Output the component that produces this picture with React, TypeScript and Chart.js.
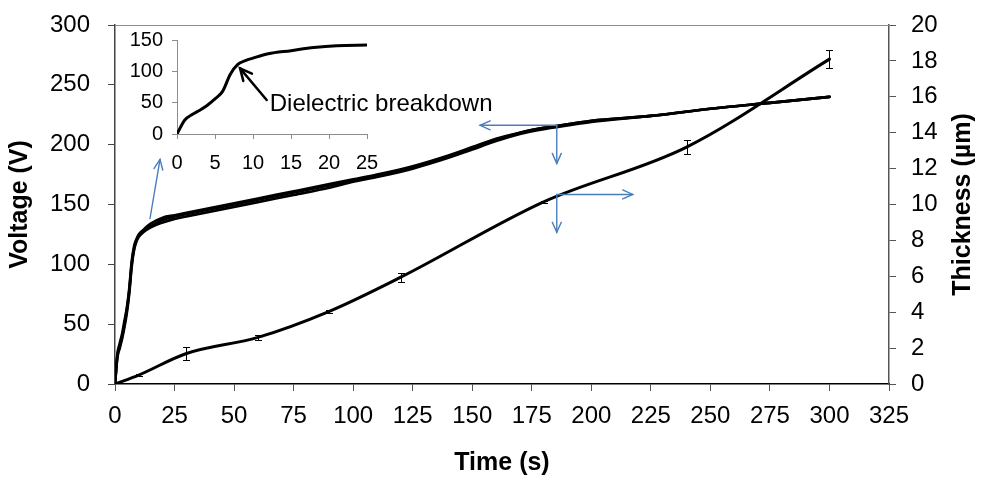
import React, { useEffect, useRef } from "react";
import { Chart, registerables } from "chart.js";

Chart.register(...registerables);

// ---------- data ----------
const voltageTime = [0, 1, 2, 3, 4, 5, 6, 7, 8, 9, 10, 12, 15, 20, 25, 30, 40, 50, 60, 75, 90, 100, 110, 125, 140, 150, 160, 170, 180, 190, 200, 225, 250, 275, 300];
const voltageRun1 = [0, 24, 32, 40, 50, 62, 78, 100, 113, 120, 124, 128, 132, 137, 140, 142, 146, 150, 154, 160, 166, 170, 174, 181, 190, 197, 204, 210, 214, 217, 220, 224, 230, 235, 240];
const voltageRun2 = [0, 25, 34, 42, 53, 64, 80, 102, 115, 121, 125, 129, 134, 139, 141, 143, 147, 151, 155, 161, 167, 171, 175, 182, 191, 198, 205, 210, 214, 217, 220, 224, 230, 235, 240];
const voltageRun3 = [0, 22, 30, 38, 48, 60, 76, 98, 112, 119, 123, 127, 131, 135, 138, 140, 144, 148, 152, 158, 164, 169, 173, 180, 189, 196, 203, 209, 213, 216, 219, 224, 230, 235, 240];

const thicknessTime = [0, 10, 30, 60, 90, 120, 180, 240, 300];
const thicknessValue = [0, 0.5, 1.7, 2.6, 4.05, 5.95, 10.15, 13.2, 18.1];
const thicknessError = [0, 0.05, 0.35, 0.15, 0.07, 0.25, 0.07, 0.37, 0.52];

const insetTime = [0, 1, 2, 3, 4, 5, 6, 7, 8, 9, 10, 12, 15, 18, 21, 25];
const insetVoltage = [0, 22, 31, 38, 46, 56, 68, 95, 111, 117, 121, 128, 133, 138, 141, 142];

const timeRange = [0, 325, 25];
const voltageRange = [0, 300, 50];
const thicknessRange = [0, 20, 2];
const insetTimeRange = [0, 25, 5];
const insetVoltageRange = [0, 150, 50];

// annotation arrows in data units: [x0, y0, x1, y1, axis]
const blueArrows: [number, number, number, number, string][] = [
  [185.5, 216.2, 153.3, 216.2, "y"],
  [185.5, 216.2, 185.5, 184.3, "y"],
  [185.5, 10.56, 217.4, 10.56, "y1"],
  [185.5, 10.56, 185.5, 8.45, "y1"],
  [14.7, 138.3, 18.9, 187.7, "y"],
];
const breakdownLabel = "Dielectric breakdown";
const breakdownArrow = [11.8, 54.3, 8.3, 104.8];
const breakdownTextAt = [12.2, 47.9];
const rightTitle = "Thickness (µm)";

const FONT = '"Liberation Sans", Arial, sans-serif';
const BLUE = "#4A7EBB";

function pts(xs: number[], ys: number[]) {
  return xs.map((x, i) => ({ x, y: ys[i] }));
}

function drawArrow(ctx: CanvasRenderingContext2D, x0: number, y0: number, x1: number, y1: number, head: number, spread: number) {
  const ang = Math.atan2(y1 - y0, x1 - x0);
  ctx.beginPath();
  ctx.moveTo(x0, y0);
  ctx.lineTo(x1, y1);
  ctx.stroke();
  ctx.beginPath();
  ctx.moveTo(x1 - head * Math.cos(ang - spread), y1 - head * Math.sin(ang - spread));
  ctx.lineTo(x1, y1);
  ctx.lineTo(x1 - head * Math.cos(ang + spread), y1 - head * Math.sin(ang + spread));
  ctx.stroke();
}

const mainDecor = {
  id: "mainDecor",
  afterDatasetsDraw(chart: any) {
    const { ctx, chartArea, scales } = chart;
    const xs = scales.x;
    const y1s = scales.y1;
    ctx.save();
    // top frame line
    ctx.strokeStyle = "#8c8c8c";
    ctx.lineWidth = 1;
    ctx.beginPath();
    ctx.moveTo(chartArea.left, chartArea.top + 0.5);
    ctx.lineTo(chartArea.right, chartArea.top + 0.5);
    ctx.stroke();
    // error bars
    ctx.strokeStyle = "#000";
    ctx.lineWidth = 1;
    thicknessTime.forEach((t, i) => {
      const e = thicknessError[i];
      if (!e) return;
      const px = Math.round(xs.getPixelForValue(t)) + 0.5;
      const top = Math.round(y1s.getPixelForValue(thicknessValue[i] + e)) + 0.5;
      const bot = Math.round(y1s.getPixelForValue(thicknessValue[i] - e)) + 0.5;
      ctx.beginPath();
      ctx.moveTo(px, top);
      ctx.lineTo(px, bot);
      ctx.moveTo(px - 3.5, top);
      ctx.lineTo(px + 3.5, top);
      ctx.moveTo(px - 3.5, bot);
      ctx.lineTo(px + 3.5, bot);
      ctx.stroke();
    });
    // blue arrows
    ctx.strokeStyle = BLUE;
    ctx.lineWidth = 1.4;
    ctx.lineCap = "round";
    blueArrows.forEach(([a, b, c, d, ax]) => {
      const ys = scales[ax];
      drawArrow(ctx, xs.getPixelForValue(a), ys.getPixelForValue(b), xs.getPixelForValue(c), ys.getPixelForValue(d), 11, 0.42);
    });
    // right axis title, reading bottom-to-top
    ctx.fillStyle = "#000";
    ctx.font = `bold 25px ${FONT}`;
    ctx.textAlign = "center";
    ctx.textBaseline = "middle";
    ctx.translate(y1s.right - 19, (chartArea.top + chartArea.bottom) / 2);
    ctx.rotate(-Math.PI / 2);
    ctx.fillText(rightTitle, 0, 0);
    ctx.restore();
  },
};

const insetDecor = {
  id: "insetDecor",
  afterDatasetsDraw(chart: any) {
    const { ctx, scales } = chart;
    const xs = scales.x;
    const ys = scales.y;
    ctx.save();
    ctx.strokeStyle = "#000";
    ctx.lineWidth = 2.5;
    ctx.lineCap = "round";
    drawArrow(
      ctx,
      xs.getPixelForValue(breakdownArrow[0]),
      ys.getPixelForValue(breakdownArrow[1]),
      xs.getPixelForValue(breakdownArrow[2]),
      ys.getPixelForValue(breakdownArrow[3]),
      13,
      0.45
    );
    ctx.fillStyle = "#000";
    ctx.font = `24px ${FONT}`;
    ctx.textAlign = "left";
    ctx.textBaseline = "middle";
    ctx.fillText(breakdownLabel, xs.getPixelForValue(breakdownTextAt[0]), ys.getPixelForValue(breakdownTextAt[1]));
    ctx.restore();
  },
};

export default function App() {
  const mainRef = useRef<HTMLCanvasElement>(null);
  const insetRef = useRef<HTMLCanvasElement>(null);

  useEffect(() => {
    const tickFont = { family: FONT, size: 24 };
    const titleFont = { family: FONT, size: 25, weight: "bold" as const };
    const lineDs = (data: any, axis: string, width: number) => ({
      data,
      yAxisID: axis,
      borderColor: "#000",
      backgroundColor: "#000",
      borderWidth: width,
      pointRadius: 0,
      fill: false,
      cubicInterpolationMode: "monotone" as const,
      borderCapStyle: "round" as const,
      borderJoinStyle: "round" as const,
    });
    const fixV = (w: number) => (s: any) => {
      s.width = w;
      s.paddingTop = 0;
      s.paddingBottom = 0;
    };

    const main = new Chart(mainRef.current!, {
      type: "line",
      data: {
        datasets: [
          lineDs(pts(voltageTime, voltageRun1), "y", 2.7),
          lineDs(pts(voltageTime, voltageRun2), "y", 2.7),
          lineDs(pts(voltageTime, voltageRun3), "y", 2.7),
          lineDs(pts(thicknessTime, thicknessValue), "y1", 3),
        ],
      },
      options: {
        responsive: false,
        animation: false,
        devicePixelRatio: 1,
        layout: { padding: { top: 25, left: 0, right: 0, bottom: 0 } },
        plugins: { legend: { display: false }, tooltip: { enabled: false } },
        scales: {
          x: {
            type: "linear",
            min: timeRange[0],
            max: timeRange[1],
            ticks: { stepSize: timeRange[2], font: tickFont, color: "#000", padding: 11, maxRotation: 0, autoSkip: false },
            grid: { drawOnChartArea: false, drawTicks: true, tickLength: 7, color: "#555" },
            border: { display: true, color: "#000", width: 1.5 },
            title: { display: true, text: "Time (s)", font: titleFont, color: "#000", padding: { top: 0, bottom: 1 } },
            afterFit: (s: any) => {
              s.height = 95;
            },
          },
          y: {
            type: "linear",
            position: "left",
            min: voltageRange[0],
            max: voltageRange[1],
            ticks: { stepSize: voltageRange[2], font: tickFont, color: "#000", padding: 18 },
            grid: { drawOnChartArea: false, drawTicks: true, tickLength: 7, color: "#444" },
            border: { display: true, color: "#444", width: 1.5 },
            title: { display: true, text: "Voltage (V)", font: titleFont, color: "#000", padding: { top: 5, bottom: 0 } },
            afterFit: fixV(115),
          },
          y1: {
            type: "linear",
            position: "right",
            min: thicknessRange[0],
            max: thicknessRange[1],
            ticks: { stepSize: thicknessRange[2], font: tickFont, color: "#000", padding: 15 },
            grid: { drawOnChartArea: false, drawTicks: true, tickLength: 7, color: "#555" },
            border: { display: true, color: "#555", width: 1.5 },
            afterFit: fixV(93),
          },
        },
      },
      plugins: [mainDecor],
    });

    const insetFont = { family: FONT, size: 20 };
    const inset = new Chart(insetRef.current!, {
      type: "line",
      data: {
        datasets: [
          {
            data: pts(insetTime, insetVoltage),
            borderColor: "#000",
            borderWidth: 3,
            pointRadius: 0,
            fill: false,
            cubicInterpolationMode: "monotone",
            borderCapStyle: "round",
          },
        ],
      },
      options: {
        responsive: false,
        animation: false,
        devicePixelRatio: 1,
        layout: { padding: { top: 20, left: 0, right: 153, bottom: 0 } },
        plugins: { legend: { display: false }, tooltip: { enabled: false } },
        scales: {
          x: {
            type: "linear",
            min: insetTimeRange[0],
            max: insetTimeRange[1],
            ticks: { stepSize: insetTimeRange[2], font: insetFont, color: "#000", padding: 12, maxRotation: 0, autoSkip: false },
            grid: { drawOnChartArea: false, drawTicks: true, tickLength: 5, color: "#8c8c8c" },
            border: { display: true, color: "#8c8c8c", width: 1 },
            afterFit: (s: any) => {
              s.height = 56;
            },
          },
          y: {
            type: "linear",
            min: insetVoltageRange[0],
            max: insetVoltageRange[1],
            ticks: { stepSize: insetVoltageRange[2], font: insetFont, color: "#000", padding: 9 },
            grid: { drawOnChartArea: false, drawTicks: true, tickLength: 5, color: "#8c8c8c" },
            border: { display: true, color: "#8c8c8c", width: 1 },
            afterFit: (s: any) => {
              s.width = 77;
              s.paddingTop = 0;
              s.paddingBottom = 0;
            },
          },
        },
      },
      plugins: [insetDecor],
    });

    return () => {
      main.destroy();
      inset.destroy();
    };
  }, []);

  return (
    <div style={{ position: "fixed", left: 0, top: 0, width: 982, height: 479, background: "#fff" }}>
      <canvas ref={mainRef} width={982} height={479} style={{ position: "absolute", left: 0, top: 0 }} />
      <canvas ref={insetRef} width={420} height={170} style={{ position: "absolute", left: 100, top: 20 }} />
    </div>
  );
}
